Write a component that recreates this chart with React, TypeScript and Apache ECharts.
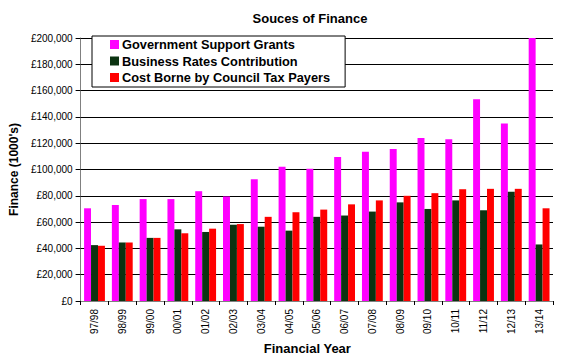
import React, { useEffect, useRef } from "react";
import * as echarts from "echarts";

const categories = ["97/98", "98/99", "99/00", "00/01", "01/02", "02/03", "03/04", "04/05", "05/06", "06/07", "07/08", "08/09", "09/10", "10/11", "11/12", "12/13", "13/14"];
const governmentGrants = [70500, 73000, 77500, 77500, 83500, 79500, 92500, 102000, 100500, 109500, 113500, 115500, 124000, 123000, 153500, 135000, 200000];
const businessRates = [42500, 44500, 48000, 54500, 52500, 58000, 56500, 53500, 64000, 65000, 68000, 75000, 70000, 76500, 69000, 83000, 43000];
const councilTax = [42000, 44500, 48000, 51500, 55000, 58500, 64000, 67500, 69500, 73500, 76500, 80000, 82000, 85000, 85300, 85300, 70500];
const seriesNames = ["Government Support Grants", "Business Rates Contribution", "Cost Borne by Council Tax Payers"];
const colors = ["#FF00FF", "#0B3311", "#FF0000"];

const FONT = "'Liberation Sans', Arial, sans-serif";

export default function App() {
  const ref = useRef<HTMLDivElement>(null);
  useEffect(() => {
    if (!ref.current) return;
    const chart = echarts.init(ref.current, undefined, { renderer: "svg" });
    const data = [governmentGrants, businessRates, councilTax];
    chart.setOption({
      animation: false,
      backgroundColor: "#ffffff",
      textStyle: { fontFamily: FONT },
      title: {
        text: "Souces of Finance",
        left: 305,
        top: 7,
        textAlign: "center",
        textStyle: { fontFamily: FONT, fontSize: 13, fontWeight: "bold", color: "#000" },
      },
      legend: {
        orient: "vertical",
        left: 92,
        top: 36,
        padding: [1, 15, 2, 18],
        itemGap: 1.5,
        itemWidth: 9,
        itemHeight: 9,
        icon: "rect",
        backgroundColor: "#ffffff",
        borderColor: "#000",
        borderWidth: 1,
        borderRadius: 0,
        textStyle: { fontFamily: FONT, fontSize: 12.8, lineHeight: 15, fontWeight: "bold", color: "#000", padding: [0, 0, 0, -2] },
        data: seriesNames,
      },
      grid: { left: 80, right: 33, top: 38, bottom: 58, containLabel: false },
      xAxis: {
        type: "category",
        data: categories,
        name: "Financial Year",
        nameLocation: "middle",
        nameGap: 41,
        nameTextStyle: { fontFamily: FONT, fontSize: 13, fontWeight: "bold", color: "#000", padding: [0, 19, 0, 0] },
        axisLine: { lineStyle: { color: "#808080", width: 1 } },
        axisTick: { show: true, length: 4, lineStyle: { color: "#000" }, alignWithLabel: false },
        axisLabel: { rotate: 90, fontFamily: FONT, fontSize: 10, color: "#000", margin: 8 },
      },
      yAxis: {
        type: "value",
        min: 0,
        max: 200000,
        interval: 20000,
        name: "Finance (1000's)",
        nameLocation: "middle",
        nameGap: 60,
        nameRotate: 90,
        nameTextStyle: { fontFamily: FONT, fontSize: 12, fontWeight: "bold", color: "#000", verticalAlign: "middle" },
        axisLine: { show: true, lineStyle: { color: "#808080", width: 1 } },
        axisTick: { show: true, length: 5, lineStyle: { color: "#000" } },
        axisLabel: {
          fontFamily: FONT,
          fontSize: 10,
          color: "#000",
          margin: 8,
          formatter: (v: number) => "£" + v.toLocaleString("en-GB"),
        },
        splitLine: { show: true, lineStyle: { color: "#000", width: 1 } },
      },
      series: seriesNames.map((name, i) => ({
        name,
        type: "bar",
        data: data[i],
        barGap: "0%",
        barCategoryGap: "25%",
        itemStyle: { color: colors[i] },
      })),
    });
    return () => chart.dispose();
  }, []);
  return <div ref={ref} style={{ width: 586, height: 360, position: "absolute", left: 0, top: 0 }} />;
}
